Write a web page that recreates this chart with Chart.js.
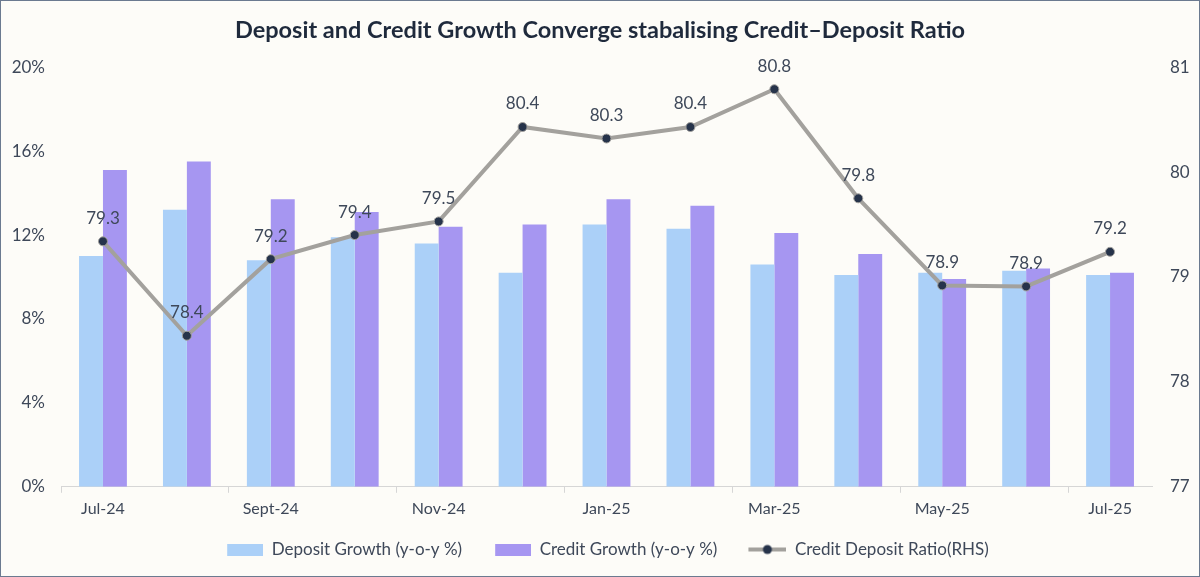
<!DOCTYPE html>
<html>
<head>
<meta charset="utf-8">
<script src="https://cdn.jsdelivr.net/npm/chart.js@4"></script>
<style>
  html, body { margin: 0; padding: 0; background: #fdfcf8; }
  #wrap { width: 1200px; height: 577px; box-sizing: border-box; border: 1px solid #6b7a90; background: #fdfcf8; }
  canvas { display: block; }
</style>
</head>
<body>
<div id="wrap"><canvas id="chart" width="1198" height="575"></canvas></div>
<script>
const months = ['Jul-24', 'Aug-24', 'Sept-24', 'Oct-24', 'Nov-24', 'Dec-24', 'Jan-25',
                'Feb-25', 'Mar-25', 'Apr-25', 'May-25', 'Jun-25', 'Jul-25'];
const depositGrowth = [11.0, 13.2, 10.8, 11.9, 11.6, 10.2, 12.5, 12.3, 10.6, 10.1, 10.2, 10.3, 10.1];
const creditGrowth  = [15.1, 15.5, 13.7, 13.1, 12.4, 12.5, 13.7, 13.4, 12.1, 11.1, 9.9, 10.4, 10.2];
const cdRatio       = [79.34, 78.44, 79.17, 79.40, 79.53, 80.43, 80.32, 80.43, 80.79, 79.75, 78.92, 78.91, 79.24];
const leftTicks  = [0, 4, 8, 12, 16, 20];
const rightTicks = [77, 78, 79, 80, 81];

const FONT = 'Lato, "Open Sans", sans-serif';
const TEXT = '#3e4859';
const DEP_COLOR = '#abd0f8';
const CRED_COLOR = '#a696f1';
const LINE_COLOR = '#a3a19d';
const DOT_COLOR = '#26334a';

// legend icons: a bit of empty room on the left so items sit further apart
const ICON_W = 52;
function rectIcon(color) {
    const c = document.createElement('canvas');
    c.width = ICON_W; c.height = 12;
    const g = c.getContext('2d');
    g.fillStyle = color;
    g.fillRect(ICON_W - 36, 0, 36, 12);
    return c;
}
function lineIcon() {
    const c = document.createElement('canvas');
    c.width = ICON_W; c.height = 12;
    const g = c.getContext('2d');
    g.strokeStyle = LINE_COLOR;
    g.lineWidth = 4;
    g.beginPath(); g.moveTo(ICON_W - 38, 6); g.lineTo(ICON_W, 6); g.stroke();
    g.fillStyle = DOT_COLOR;
    g.beginPath(); g.arc(ICON_W - 19, 6, 4.5, 0, Math.PI * 2); g.fill();
    return c;
}

// value labels above the ratio line
const pointLabels = {
    id: 'pointLabels',
    afterDatasetsDraw(chart) {
        const meta = chart.getDatasetMeta(2);
        const ctx = chart.ctx;
        ctx.save();
        ctx.font = '17px ' + FONT;
        ctx.fillStyle = TEXT;
        ctx.textAlign = 'center';
        ctx.textBaseline = 'middle';
        meta.data.forEach((pt, i) => {
            ctx.fillText(cdRatio[i].toFixed(1), pt.x, pt.y - 23);
        });
        ctx.restore();
    }
};

new Chart(
    document.getElementById('chart'),
    {
        type: 'bar',
        data: {
            labels: months,
            datasets: [
                {
                    label: 'Deposit Growth (y-o-y %)',
                    data: depositGrowth,
                    backgroundColor: DEP_COLOR,
                    yAxisID: 'y',
                    order: 1,
                    barPercentage: 1,
                    categoryPercentage: 0.57
                },
                {
                    label: 'Credit Growth (y-o-y %)',
                    data: creditGrowth,
                    backgroundColor: CRED_COLOR,
                    yAxisID: 'y',
                    order: 1,
                    barPercentage: 1,
                    categoryPercentage: 0.57
                },
                {
                    type: 'line',
                    label: 'Credit Deposit Ratio(RHS)',
                    data: cdRatio,
                    borderColor: LINE_COLOR,
                    borderWidth: 4,
                    pointRadius: 4.5,
                    pointBackgroundColor: DOT_COLOR,
                    pointBorderColor: LINE_COLOR,
                    pointBorderWidth: 1,
                    yAxisID: 'y1',
                    order: 0
                }
            ]
        },
        options: {
            responsive: false,
            animation: false,
            layout: { padding: { left: 0, right: 0, top: 0, bottom: 8 } },
            plugins: {
                title: {
                    display: true,
                    text: 'Deposit and Credit Growth Converge stabalising Credit\u2013Deposit Ratio',
                    color: '#1f2a3c',
                    font: { family: FONT, size: 23.5, weight: 'bold' },
                    padding: { top: 15, bottom: 23 }
                },
                legend: {
                    position: 'bottom',
                    labels: {
                        color: TEXT,
                        font: { family: FONT, size: 17 },
                        usePointStyle: true,
                        pointStyleWidth: ICON_W,
                        boxHeight: 12,
                        padding: 17,
                        sort: (a, b) => a.datasetIndex - b.datasetIndex,
                        generateLabels(chart) {
                            const items = Chart.defaults.plugins.legend.labels.generateLabels(chart);
                            items.forEach(it => {
                                if (it.datasetIndex === 2) {
                                    it.pointStyle = lineIcon();
                                } else {
                                    it.pointStyle = rectIcon(it.datasetIndex === 0 ? DEP_COLOR : CRED_COLOR);
                                }
                            });
                            return items;
                        }
                    }
                },
                tooltip: { enabled: false }
            },
            scales: {
                x: {
                    grid: {
                        offset: true,
                        drawOnChartArea: false,
                        drawTicks: true,
                        tickLength: 6,
                        color: ctx => ctx.index % 2 === 0 ? '#d6d6d6' : 'rgba(0,0,0,0)'
                    },
                    border: { display: true, color: '#d6d6d6', width: 1 },
                    ticks: {
                        autoSkip: false,
                        maxRotation: 0,
                        padding: 6,
                        color: TEXT,
                        font: { family: FONT, size: 16 },
                        callback: function(v, i) {
                            return i % 2 === 0 ? this.getLabelForValue(v) : '';
                        }
                    }
                },
                y: {
                    position: 'left',
                    min: 0,
                    max: 20,
                    afterBuildTicks: s => { s.ticks = leftTicks.map(v => ({ value: v })); },
                    afterFit: s => { s.width = 60; },
                    grid: { display: false, drawTicks: false },
                    border: { display: false },
                    ticks: {
                        padding: 16,
                        color: TEXT,
                        font: { family: FONT, size: 17 },
                        callback: v => v + '%'
                    }
                },
                y1: {
                    position: 'right',
                    min: 77,
                    max: 81,
                    afterBuildTicks: s => { s.ticks = rightTicks.map(v => ({ value: v })); },
                    afterFit: s => { s.width = 47; },
                    grid: { display: false, drawTicks: false },
                    border: { display: false },
                    ticks: {
                        padding: 18,
                        color: TEXT,
                        font: { family: FONT, size: 17 }
                    }
                }
            }
        },
        plugins: [pointLabels]
    }
);
</script>
</body>
</html>
